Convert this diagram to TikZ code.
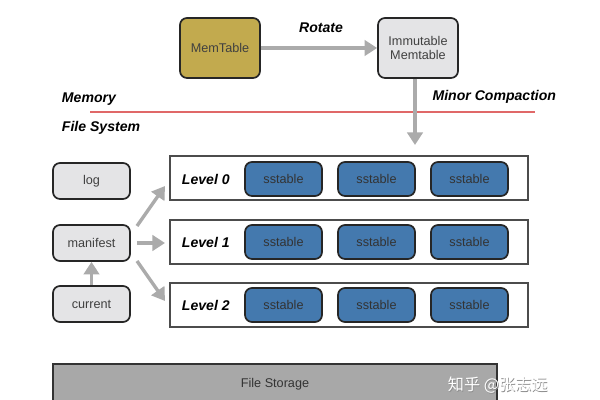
\documentclass[tikz,border=0pt]{standalone}
\usepackage{fontspec}
\setmainfont{Liberation Sans}
\newfontfamily\cjk{Noto Sans CJK SC}
\usetikzlibrary{arrows.meta}
\definecolor{olive}{HTML}{C2AA4E}
\definecolor{lgray}{HTML}{E4E4E6}
\definecolor{sblue}{HTML}{4479AE}
\definecolor{agray}{HTML}{ABABAB}
\definecolor{fsgray}{HTML}{A8A8A8}
\definecolor{rline}{HTML}{E06868}
\begin{document}
\begin{tikzpicture}[x=0.025cm,y=-0.025cm,
  box/.style={draw=black!85,line width=1.2pt,rounded corners=5pt,font=\fontsize{9}{10}\selectfont,text=black!75,align=center},
  memb/.style={box,fill=olive,minimum width=80*0.025cm,minimum height=60*0.025cm},
  immb/.style={box,fill=lgray,minimum width=80*0.025cm,minimum height=60*0.025cm},
  sideb/.style={box,fill=lgray,minimum width=77*0.025cm,minimum height=36*0.025cm},
  sst/.style={box,fill=sblue,text=black!80,minimum width=77*0.025cm,minimum height=34*0.025cm},
  lvl/.style={draw=black!70,line width=1pt,fill=white,minimum width=358*0.025cm,minimum height=44*0.025cm},
  lab/.style={font=\bfseries\itshape\fontsize{10}{12}\selectfont,text=black},
  arr/.style={draw=agray,line width=2.4pt,-{Triangle[length=9pt,width=11pt]}}
]
\useasboundingbox (0,0) rectangle (600,400);
\fill[white] (0,0) rectangle (600,400);
% top
\node[memb] (mem) at (220,48) {MemTable};
\node[immb] (imm) at (418,48) {Immutable\\Memtable};
\draw[arr] (mem.east) -- (imm.west);
\node[lab] (rot) at (321,28) {Rotate};
\draw[rline,line width=1.2pt] (90,112) -- (535,112);
\node[lab,anchor=west] (memlab) at (57,99) {Memory};
\node[lab,anchor=west] (fslab) at (57,128) {File System};
\node[lab,anchor=east] (minor) at (561,97) {Minor Compaction};
% levels
\node[lvl] (l0) at (349,178) {};
\node[lvl] (l1) at (349,242) {};
\node[lvl] (l2) at (349,305) {};
\coordinate (dn) at (415,145);
\draw[arr] (imm.south -| dn) -- (dn);
\foreach \n/\y/\l in {0/179/Level 0,1/242/Level 1,2/305/Level 2}{
  \node[lab,anchor=west] (lab\n) at (177,\y) {\l};
  \node[sst] (s\n a) at (283.5,\y) {sstable};
  \node[sst] (s\n b) at (376.5,\y) {sstable};
  \node[sst] (s\n c) at (469.5,\y) {sstable};
}
% side
\node[sideb] (log) at (91.5,181) {log};
\node[sideb] (man) at (91.5,243) {manifest};
\node[sideb] (cur) at (91.5,304) {current};
\coordinate (t0) at (165,186);
\coordinate (t1) at (165,243);
\coordinate (t2) at (165,301);
\draw[arr] (137,226) -- (t0);
\draw[arr] (man.east) ++(6,0) -- (t1);
\draw[arr] (137,261) -- (t2);
\draw[arr] (cur.north) -- (man.south);
% storage
\node[draw=black!80,line width=1pt,fill=fsgray,minimum width=444*0.025cm,minimum height=40*0.025cm,font=\fontsize{9}{10}\selectfont,text=black!80] (fs) at (275,384) {File Storage};
\node[font=\cjk\fontsize{11.5}{13}\selectfont,text=black!45,anchor=west] (wms) at (443.6,385.6) {知乎 @张志远};
\node[font=\cjk\fontsize{11.5}{13}\selectfont,text=white,anchor=west] (wm) at (443,385) {知乎 @张志远};
\end{tikzpicture}
\end{document}
